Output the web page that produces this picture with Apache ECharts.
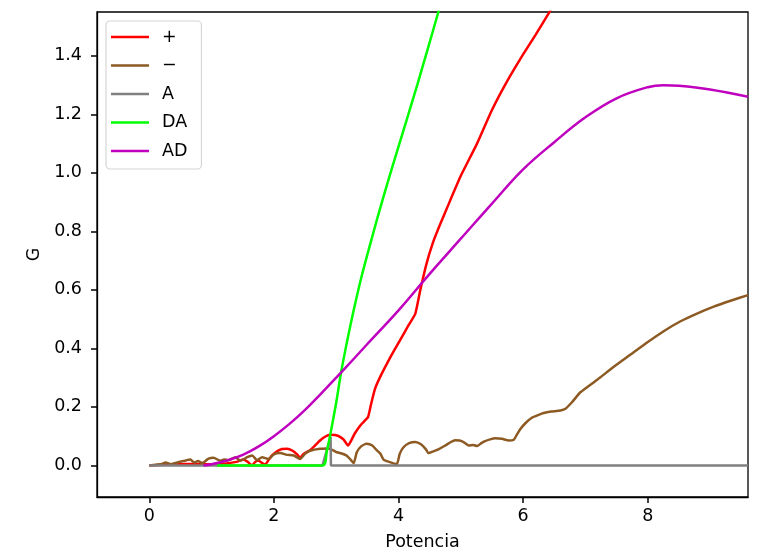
<!DOCTYPE html>
<html>
<head>
<meta charset="utf-8">
<script src="https://cdn.jsdelivr.net/npm/echarts@6/dist/echarts.min.js"></script>
<style>
html,body{margin:0;padding:0;background:#fff;}
#chart{width:774px;height:553px;}
</style>
</head>
<body>
<div id="chart"></div>
<script>
// ---- data ----
const seriesNames = ["+", "\u2212", "A", "DA", "AD"];
const xTicks = [0, 2, 4, 6, 8];
const yTicks = [0, 0.2, 0.4, 0.6, 0.8, 1.0, 1.2, 1.4];

const plusX = [0, 0.3, 0.6, 0.9, 1.2, 1.4, 1.51, 1.58, 1.65, 1.7, 1.75, 1.8, 1.86, 1.92, 1.97, 2.05, 2.13, 2.21, 2.3, 2.38, 2.42, 2.48, 2.58, 2.66, 2.74, 2.82, 2.9, 2.98, 3.04, 3.12, 3.19, 3.24, 3.3, 3.4, 3.51, 3.56, 3.62, 3.7, 3.87, 4.03, 4.15, 4.27, 4.35, 4.45, 4.55, 4.66, 4.83, 5.0, 5.26, 5.5, 5.74, 6.0, 6.2, 6.41, 6.5];
const plusY = [0, 0.003, 0.005, 0.004, 0.006, 0.012, 0.02, 0.012, 0.0, 0.012, 0.017, 0.01, 0.003, 0.02, 0.034, 0.048, 0.056, 0.057, 0.05, 0.036, 0.026, 0.04, 0.052, 0.068, 0.085, 0.098, 0.105, 0.104, 0.1, 0.088, 0.068, 0.085, 0.11, 0.14, 0.165, 0.21, 0.26, 0.3, 0.37, 0.43, 0.475, 0.519, 0.6, 0.69, 0.76, 0.82, 0.906, 0.99, 1.1, 1.215, 1.312, 1.405, 1.472, 1.545, 1.58];

const minusX = [0, 0.1, 0.2, 0.26, 0.35, 0.45, 0.55, 0.66, 0.72, 0.78, 0.85, 0.95, 1.03, 1.14, 1.2, 1.27, 1.38, 1.46, 1.57, 1.65, 1.73, 1.81, 1.91, 2.0, 2.1, 2.21, 2.32, 2.42, 2.5, 2.58, 2.74, 2.88, 3.01, 3.1, 3.17, 3.23, 3.28, 3.33, 3.4, 3.49, 3.58, 3.65, 3.71, 3.76, 3.85, 3.97, 4.02, 4.08, 4.17, 4.27, 4.36, 4.44, 4.48, 4.56, 4.64, 4.75, 4.84, 4.91, 4.98, 5.05, 5.13, 5.2, 5.26, 5.33, 5.39, 5.47, 5.55, 5.66, 5.77, 5.85, 5.9, 5.96, 6.04, 6.14, 6.25, 6.33, 6.45, 6.6, 6.68, 6.78, 6.92, 7.19, 7.45, 7.72, 7.99, 8.25, 8.52, 8.8, 9.06, 9.33, 9.61];
const minusY = [0, 0.002, 0.005, 0.01, 0.004, 0.01, 0.015, 0.02, 0.01, 0.015, 0.008, 0.023, 0.026, 0.016, 0.02, 0.018, 0.028, 0.016, 0.028, 0.034, 0.018, 0.028, 0.022, 0.038, 0.042, 0.036, 0.034, 0.022, 0.04, 0.05, 0.057, 0.058, 0.045, 0.04, 0.033, 0.02, 0.008, 0.045, 0.065, 0.074, 0.068, 0.052, 0.04, 0.02, 0.012, 0.004, 0.04, 0.062, 0.076, 0.08, 0.072, 0.055, 0.042, 0.048, 0.055, 0.068, 0.08, 0.086, 0.085, 0.079, 0.068, 0.07, 0.066, 0.076, 0.083, 0.089, 0.093, 0.091, 0.085, 0.088, 0.105, 0.125, 0.145, 0.163, 0.173, 0.179, 0.184, 0.188, 0.194, 0.215, 0.25, 0.293, 0.336, 0.378, 0.42, 0.458, 0.492, 0.52, 0.543, 0.563, 0.582];

const aX = [0, 2.78, 2.91, 2.915, 9.61];
const aY = [0, 0, 0.097, 0, 0];

const daX = [1.09, 2.78, 2.85, 2.9, 3.0, 3.08, 3.18, 3.28, 3.4, 3.55, 3.76, 4.0, 4.3, 4.64, 4.75];
const daY = [0, 0, 0.05, 0.1, 0.215, 0.32, 0.43, 0.53, 0.64, 0.76, 0.92, 1.09, 1.3, 1.55, 1.63];

const adX = [0.87, 1.0, 1.25, 1.5, 1.75, 2.0, 2.25, 2.5, 2.75, 3.0, 3.25, 3.5, 4.0, 4.5, 5.0, 5.5, 6.0, 6.5, 7.0, 7.5, 8.0, 8.25, 8.5, 9.0, 9.61];
const adY = [0, 0.004, 0.017, 0.036, 0.064, 0.1, 0.142, 0.19, 0.244, 0.3, 0.357, 0.415, 0.53, 0.655, 0.775, 0.895, 1.012, 1.105, 1.19, 1.255, 1.293, 1.3, 1.298, 1.285, 1.26];

const colors = ["#ff0000", "#8c5a22", "#808080", "#00ff00", "#bf00bf"];

function pairs(xs, ys) { return xs.map((x, i) => [x, ys[i]]); }
const allData = [pairs(plusX, plusY), pairs(minusX, minusY), pairs(aX, aY), pairs(daX, daY), pairs(adX, adY)];
const smoothing = [0.15, 0.2, false, 0.3, 0.4];

const FONT = "DejaVu Sans";
const FS = 17.5;
const chart = echarts.init(document.getElementById('chart'), null, {renderer: 'canvas'});
chart.setOption({
  animation: false,
  backgroundColor: '#fff',
  textStyle: {fontFamily: FONT},
  grid: {left: 97, right: 26, top: 12, bottom: 56, containLabel: false, outerBoundsMode: 'none',
         show: true, borderColor: '#000', borderWidth: 1.3},
  legend: {
    orient: 'vertical', left: 106, top: 21,
    icon: 'rect', itemWidth: 38, itemHeight: 2.5, itemGap: 10.5,
    padding: [7, 14, 9, 5],
    backgroundColor: '#fff', borderColor: '#d6d6d6', borderWidth: 1.2, borderRadius: 4,
    textStyle: {fontFamily: FONT, fontSize: FS, color: '#000', lineHeight: 17, padding: [0, 0, 0, 8]},
    data: seriesNames
  },
  xAxis: {
    type: 'value', min: -0.84, max: 9.61, position: 'bottom',
    name: 'Potencia', nameLocation: 'middle', nameGap: 36,
    nameTextStyle: {fontFamily: FONT, fontSize: FS, color: '#000'},
    axisLine: {show: true, onZero: false, lineStyle: {color: '#000', width: 1.3}},
    axisTick: {show: true, length: 6, lineStyle: {color: '#000', width: 1.5}, customValues: xTicks},
    axisLabel: {fontFamily: FONT, fontSize: FS, color: '#000', margin: 10, customValues: xTicks, formatter: v => String(v)},
    splitLine: {show: false}
  },
  yAxis: {
    type: 'value', min: -0.108, max: 1.55, position: 'left',
    name: 'G', nameLocation: 'middle', nameGap: 53, nameRotate: 90,
    nameTextStyle: {fontFamily: FONT, fontSize: FS, color: '#000'},
    axisLine: {show: true, onZero: false, lineStyle: {color: '#000', width: 1.3}},
    axisTick: {show: true, length: 6, lineStyle: {color: '#000', width: 1.5}, customValues: yTicks},
    axisLabel: {fontFamily: FONT, fontSize: FS, color: '#000', margin: 15, customValues: yTicks, formatter: v => v.toFixed(1)},
    splitLine: {show: false}
  },
  series: seriesNames.map((n, i) => ({
    name: n, type: 'line', data: allData[i],
    showSymbol: false, symbol: 'none', smooth: smoothing[i], clip: true,
    lineStyle: {color: colors[i], width: 2.5},
    itemStyle: {color: colors[i]},
    z: 2 + i
  }))
});
</script>
</body>
</html>
